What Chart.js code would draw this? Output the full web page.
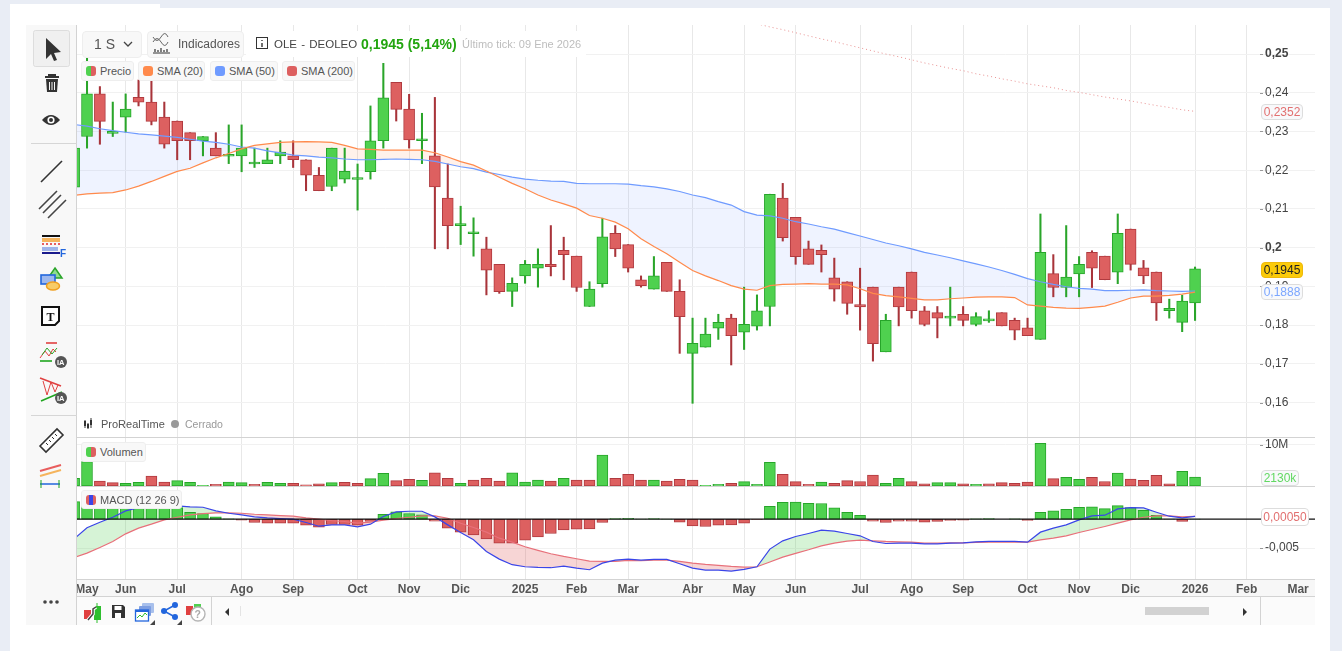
<!DOCTYPE html>
<html lang="es">
<head>
<meta charset="utf-8">
<title>OLE - DEOLEO</title>
<script src="https://cdn.jsdelivr.net/npm/chart.js@4/dist/chart.umd.min.js"></script>
<style>
    * { box-sizing: border-box; }
    body { margin: 0; width: 1342px; height: 651px; overflow: hidden; background: #e9edf5; position: relative;
        font-family: "Liberation Sans", Arial, sans-serif; color: #444; }
    .abs { position: absolute; }
    canvas { position: absolute; left: 76px; }
    .chip { position: absolute; display: flex; align-items: center; background: #f8f8f8; border: 1px solid #eeeeee;
        border-radius: 3px; font-size: 11px; color: #555; padding-left: 4px; white-space: nowrap; }
    .chip i { display: block; width: 10px; height: 10px; border-radius: 3px; margin-right: 4px; flex: none; }
    .precio { background: linear-gradient(90deg, #4fd14f 50%, #dd6060 50%); }
    .etiqueta { position: absolute; left: 1261px; height: 16px; line-height: 14px; font-size: 12px; text-align: center;
        background: #f8f9fb; border: 1px solid #dddddd; border-radius: 4px; }
    .linea { position: absolute; background: #d3d3d3; }
    .boton { position: absolute; background: #f8f8f8; border: 1px solid #eeeeee; border-radius: 4px; color: #555; font-size: 13px; line-height: 25px; }
    svg { position: absolute; left: 0; top: 0; }
</style>
</head>
<body>
    <!-- Fondo de la tarjeta blanca y zonas de la plataforma -->
    <div class="abs" style="left:10px;top:4px;width:150px;height:10px;background:#fff"></div>
    <div class="abs" style="left:10px;top:8px;width:1320px;height:643px;background:#fff"></div>
    <div class="abs" style="left:26px;top:25px;width:50px;height:600px;background:#f8f8f8"></div>
    <div class="abs" style="left:76px;top:580px;width:1239px;height:16px;background:#f7f7f7"></div>
    <div class="abs" style="left:76px;top:597px;width:1239px;height:28px;background:#fbfbfb"></div>

    <canvas id="graficoPrecio" width="1239" height="412" style="top:25px"></canvas>
    <canvas id="graficoVolumen" width="1239" height="48" style="top:438px"></canvas>
    <canvas id="graficoMacd" width="1239" height="109" style="top:487px"></canvas>

    <div class="linea" style="left:76px;top:25px;width:1px;height:600px"></div>
    <div class="linea" style="left:76px;top:437px;width:1239px;height:1px"></div>
    <div class="linea" style="left:76px;top:486px;width:1239px;height:1px"></div>
    <div class="linea" style="left:76px;top:579px;width:1239px;height:1px"></div>
    <div class="linea" style="left:76px;top:596px;width:1239px;height:1px"></div>
    <div class="linea" style="left:211px;top:597px;width:1px;height:28px"></div>
    <div class="linea" style="left:1260px;top:597px;width:1px;height:28px"></div>
    <div class="linea" style="left:240px;top:606px;width:1px;height:10px;background:#e4e4e4"></div>
    <div class="abs" style="left:1145px;top:607px;width:64px;height:8px;background:#d2d2d2"></div>

    <!-- Barra superior -->
    <div class="abs" style="left:246px;top:31px;width:340px;height:26px;background:#fff"></div>
    <div class="boton" style="left:82px;top:31px;width:60px;height:27px;font-size:14px;padding-left:11px">1 S</div>
    <div class="boton" style="left:147px;top:31px;width:97px;height:27px;padding-left:30px;font-size:12px">Indicadores</div>
    <div class="abs" style="left:274px;top:38px;font-size:11.5px;color:#444;word-spacing:1px">OLE - DEOLEO</div>
    <div class="abs" style="left:361px;top:36px;font-size:14px;font-weight:bold;color:#22a50f">0,1945 (5,14%)</div>
    <div class="abs" style="left:462px;top:38px;font-size:11px;color:#bdbdbd">Último tick: 09 Ene 2026</div>

    <!-- Leyendas de los paneles -->
    <div class="chip" style="left:81px;top:61px;width:53px;height:20px"><i class="precio"></i>Precio</div>
    <div class="chip" style="left:138px;top:61px;width:67px;height:20px"><i style="background:#ff8a4c"></i>SMA (20)</div>
    <div class="chip" style="left:210px;top:61px;width:68px;height:20px"><i style="background:#6f9bff"></i>SMA (50)</div>
    <div class="chip" style="left:282px;top:61px;width:73px;height:20px"><i style="background:#dd6060"></i>SMA (200)</div>
    <div class="chip" style="left:81px;top:442px;width:65px;height:20px"><i class="precio"></i>Volumen</div>
    <div class="chip" style="left:81px;top:490px;width:101px;height:19px"><i style="background:linear-gradient(90deg,#dd6060 33%,#3a45e8 33%,#3a45e8 66%,#dd6060 66%)"></i>MACD (12 26 9)</div>
    <div class="abs" style="left:101px;top:418px;font-size:11px;color:#555">ProRealTime</div>
    <div class="abs" style="left:185px;top:418px;font-size:10.5px;color:#999">Cerrado</div>

    <!-- Últimos valores en la escala derecha -->
    <div class="etiqueta" style="top:104px;width:42px;color:#e27070">0,2352</div>
    <div class="etiqueta" style="top:262px;width:42px;background:#fbcb0a;border-color:#eeb90a;color:#222">0,1945</div>
    <div class="etiqueta" style="top:284px;width:42px;color:#7ba6ff">0,1888</div>
    <div class="etiqueta" style="top:470px;width:38px;color:#62d862">2130k</div>
    <div class="etiqueta" style="top:508px;width:48px;height:18px;line-height:16px;color:#e27070;background:#fff">0,00050</div>

    <!-- Iconos de las barras de herramientas -->
    <svg width="1342" height="651" fill="none">
        <rect x="33.5" y="30.5" width="36" height="36" rx="2" fill="#f0f0f0" stroke="#dddddd"/>
        <path d="M46 38l0 21 5-5 3 7 3-1-3-7 7-1z" fill="#333"/>
        <path d="M45 77h14M49 77v-2h6v2" stroke="#333" stroke-width="2"/><path d="M46 79h12l-1 13h-10z" fill="#333"/>
        <path d="M49.5 82v8M52 82v8M54.5 82v8" stroke="#f8f8f8"/>
        <path d="M42 120q9-10 18 0q-9 10-18 0z" fill="#333"/>
        <circle cx="51" cy="120" r="3.6" fill="#fff"/><circle cx="51" cy="120" r="2" fill="#333"/>
        <path d="M31 143.5h46M31 415.5h46" stroke="#d6d6d6"/>
        <path d="M41 182l21-21" stroke="#333" stroke-width="1.6"/>
        <path d="M39 209l18-18M43 213l18-18M48 218l18-18" stroke="#444" stroke-width="1.6"/>
        <path d="M42 236h18" stroke="#111" stroke-width="2"/><path d="M42 240h18" stroke="#f5b45d" stroke-width="4"/>
        <path d="M42 244h18" stroke="#e85d5d" stroke-width="2" stroke-dasharray="2 2"/>
        <path d="M42 249h16" stroke="#9fb4e8" stroke-width="4"/><path d="M42 253h18" stroke="#1a1a8c" stroke-width="2"/>
        <text x="60" y="257" font-size="10" font-weight="bold" fill="#2266dd" font-family="Liberation Sans">F</text>
        <path d="M55 268l7 10h-14z" fill="#8fdc8f" stroke="#2aa52a" stroke-width="1.5"/>
        <rect x="41" y="275" width="14" height="9" fill="#9db8ee" stroke="#2266dd" stroke-width="1.6"/>
        <ellipse cx="53" cy="286" rx="6.5" ry="4" fill="#f8cc66" stroke="#f0a020" stroke-width="1.5"/>
        <path d="M42 307h17v14l-4 4h-13z" fill="#fff" stroke="#111" stroke-width="2"/>
        <text x="46.5" y="321" font-size="12" font-weight="bold" fill="#111" font-family="Liberation Serif">T</text>
        <path d="M46 343h11" stroke="#e04040" stroke-width="1.6"/><path d="M40 358l5-7 4 5 4-7 3 3" stroke="#e04040"/><path d="M42 355l5-7 5 6 5-6" stroke="#2aa52a"/><path d="M40 361h12" stroke="#1fa51f" stroke-width="1.6"/>
        <circle cx="61" cy="362" r="6" fill="#555"/><text x="57" y="365" font-size="7.5" font-weight="bold" fill="#fff" font-family="Liberation Sans">IA</text>
        <path d="M40 378l21 8" stroke="#e04040" stroke-width="1.6"/><path d="M41 401l21-9" stroke="#1fa51f" stroke-width="1.6"/><path d="M43 381l4 14 4-13 4 10 3-7" stroke="#e04040"/>
        <circle cx="61" cy="398" r="6" fill="#555"/><text x="57" y="401" font-size="7.5" font-weight="bold" fill="#fff" font-family="Liberation Sans">IA</text>
        <path d="M40 446l17-17 6 6-17 17z" fill="#fff" stroke="#333" stroke-width="1.6"/><path d="M46 443l2 2M49 440l2 2M52 437l2 2M55 434l2 2" stroke="#333"/>
        <path d="M40 471l21-6" stroke="#e85d5d" stroke-width="2"/><path d="M40 476l21-6" stroke="#f5b45d" stroke-width="2"/><path d="M40 484h20" stroke="#2266dd" stroke-width="1.5"/><path d="M41 480v8M59 480v8" stroke="#1fa51f"/>
        <g fill="#444"><circle cx="45" cy="602" r="1.8"/><circle cx="51" cy="602" r="1.8"/><circle cx="57" cy="602" r="1.8"/></g>
        <path d="M124 42l4 4 4-4" stroke="#444" stroke-width="1.3"/>
        <path d="M153 42q4-7 8 0t7 0M153 37q4 7 8 0t7 0" stroke="#666"/><path d="M153 53h17M155 52v-3M158 52v-2M161 52v-4M164 52v-2M167 52v-3" stroke="#333" stroke-width="1.2"/>
        <rect x="256.5" y="37.5" width="11" height="11" stroke="#333"/><path d="M262 40v1M262 43v4" stroke="#333" stroke-width="1.4"/>
        <path d="M85 420v8M91 418v10M88 423v6" stroke="#333"/><path d="M84 421h2v5h-2zM90 420h2v5h-2zM87 424h2v4h-2z" fill="#333"/>
        <circle cx="175" cy="424" r="4" fill="#999"/>
        <rect x="84" y="610" width="7" height="9" fill="#e04040"/><rect x="94" y="606" width="7" height="14" fill="#2fbf2f"/><path d="M97 603v20" stroke="#2fbf2f"/>
        <path d="M88 620l5-6v-5l3-2" stroke="#fff" stroke-width="3.5"/><path d="M88 620l5-6v-5l3-2" stroke="#444" stroke-width="1.5"/>
        <path d="M112 605h11l2 2v11h-13z" fill="#333"/><rect x="114.5" y="606" width="7" height="4" fill="#fff"/><rect x="115" y="613" width="6" height="5" fill="#fff"/>
        <rect x="142" y="603" width="12" height="10" fill="#a8c0ec" rx="1"/><rect x="139" y="606" width="12" height="10" fill="#7e9fe2" rx="1"/><rect x="135.5" y="610" width="13" height="11" fill="#fff" stroke="#2266dd" stroke-width="1.3"/><path d="M137 618l3-3 2 2 3-4 2 2" stroke="#2fbf2f"/><path d="M135 611h14" stroke="#2266dd" stroke-width="2"/>
        <path d="M150 625l5-5v5z" fill="#444"/>
        <circle cx="164" cy="611" r="3" fill="#2266dd"/><circle cx="175" cy="605" r="3" fill="#2266dd"/><circle cx="175" cy="617" r="3" fill="#2266dd"/><path d="M175 605l-11 6 11 6" stroke="#2266dd" stroke-width="1.5"/><path d="M177 625l5-5v5z" fill="#444"/>
        <rect x="186" y="606" width="7" height="9" fill="#e04040"/><rect x="194" y="604" width="7" height="7" fill="#4fd14f"/>
        <circle cx="198" cy="614" r="7" fill="#fff" stroke="#b5b5b5" stroke-width="1.4"/><text x="194.5" y="618" font-size="10.5" font-weight="bold" fill="#aaa" font-family="Liberation Sans">?</text>
        <path d="M229 608v8l-4-4z" fill="#333"/><path d="M1243 608v8l4-4z" fill="#333"/>
    </svg>

<script>
    // Constantes del eje horizontal: una unidad equivale a una semana.
    const SEMANA_MIN = -0.854;
    const SEMANA_MAX = 95.31;

    // Velas semanales (la primera queda cortada por el borde izquierdo).
    const apertura = [0.2156,
        0.2287,0.2397,0.2295,0.2337,0.2388,0.2376,0.2337,0.2327,0.2297,0.2276,
        0.2257,0.2236,0.2237,0.2216,0.2217,0.2237,0.2237,0.2227,0.2187,0.2158,
        0.2177,0.2176,0.2196,0.2276,0.2427,0.2358,0.2276,0.2237,0.2128,0.2057,
        0.2036,0.1997,0.1957,0.1887,0.1927,0.1947,0.1957,0.1993,0.1978,0.1848,
        0.1907,0.2037,0.2008,0.1917,0.1893,0.1962,0.1887,0.1727,0.1743,0.1792,
        0.1818,0.1782,0.1797,0.1848,0.2128,0.2078,0.1997,0.1993,0.1922,0.1912,
        0.1853,0.1898,0.1731,0.1898,0.1937,0.1837,0.1832,0.1818,0.1828,0.1802,
        0.1811,0.1832,0.1812,0.1793,0.1763,0.1933,0.1897,0.1932,0.1988,0.1978,
        0.1937,0.2048,0.1948,0.1937,0.1837,0.1807,0.1857];
    const cierre = [0.2257,
        0.2397,0.2326,0.2300,0.2358,0.2376,0.2326,0.2267,0.2276,0.2276,0.2287,
        0.2237,0.2238,0.2257,0.2219,0.2227,0.2247,0.2227,0.2187,0.2147,0.2257,
        0.2197,0.2178,0.2276,0.2387,0.2357,0.2278,0.2278,0.2157,0.2057,0.2058,
        0.2037,0.1942,0.1886,0.1908,0.1957,0.1957,0.1951,0.1982,0.1897,0.1893,
        0.2028,0.1997,0.1947,0.1902,0.1927,0.1887,0.1822,0.1753,0.1777,0.1807,
        0.1773,0.1802,0.1837,0.2138,0.2026,0.1977,0.1957,0.1982,0.1893,0.1856,
        0.1847,0.1752,0.1812,0.1847,0.1837,0.1802,0.1818,0.1823,0.1812,0.1822,
        0.1812,0.1798,0.1787,0.1773,0.1988,0.1897,0.1924,0.1957,0.1947,0.1917,
        0.2037,0.1957,0.1927,0.1857,0.1843,0.1862,0.1945];
    const maximo = [0.2257,
        0.2490,0.2416,0.2376,0.2397,0.2433,0.2430,0.2376,0.2327,0.2297,0.2287,
        0.2297,0.2317,0.2317,0.2257,0.2257,0.2276,0.2276,0.2227,0.2207,0.2257,
        0.2257,0.2216,0.2366,0.2476,0.2427,0.2396,0.2347,0.2388,0.2216,0.2107,
        0.2077,0.2027,0.1957,0.1922,0.1967,0.1997,0.2057,0.2027,0.1978,0.1912,
        0.2076,0.2057,0.2008,0.1927,0.1977,0.1962,0.1917,0.1818,0.1818,0.1828,
        0.1828,0.1898,0.1878,0.2138,0.2166,0.2078,0.2017,0.2007,0.1973,0.1912,
        0.1947,0.1898,0.1828,0.1898,0.1937,0.1848,0.1848,0.1898,0.1848,0.1832,
        0.1837,0.1832,0.1818,0.1818,0.2087,0.1982,0.2057,0.1977,0.1992,0.1978,
        0.2087,0.2048,0.1967,0.1937,0.1867,0.1877,0.1950];
    const minimo = [0.2156,
        0.2257,0.2267,0.2287,0.2298,0.2366,0.2317,0.2257,0.2227,0.2227,0.2237,
        0.2237,0.2217,0.2196,0.2207,0.2217,0.2217,0.2207,0.2147,0.2147,0.2147,
        0.2167,0.2097,0.2177,0.2257,0.2327,0.2257,0.2217,0.1997,0.1997,0.2008,
        0.1978,0.1878,0.1882,0.1848,0.1908,0.1898,0.1927,0.1917,0.1887,0.1848,
        0.1898,0.1977,0.1937,0.1898,0.1893,0.1887,0.1727,0.1598,0.1743,0.1763,
        0.1697,0.1737,0.1787,0.1798,0.2017,0.1957,0.1957,0.1937,0.1862,0.1828,
        0.1787,0.1707,0.1731,0.1798,0.1818,0.1798,0.1767,0.1798,0.1798,0.1798,
        0.1807,0.1798,0.1762,0.1773,0.1763,0.1873,0.1873,0.1873,0.1897,0.1917,
        0.1907,0.1942,0.1907,0.1812,0.1818,0.1783,0.1812];

    // Medias móviles del panel de precio.
    const sma20 = [0.2135,
        0.2139,0.2141,0.2142,0.2149,0.2159,0.2171,0.2184,0.2197,0.2205,0.2219,
        0.2232,0.2243,0.2255,0.2264,0.2268,0.2272,0.2273,0.2274,0.2273,0.2272,
        0.2264,0.2255,0.2254,0.2252,0.2252,0.2252,0.2252,0.2245,0.2234,0.2222,
        0.2213,0.2198,0.2182,0.2166,0.2152,0.2136,0.2123,0.2113,0.2102,0.2083,
        0.2076,0.2066,0.2049,0.2023,0.2003,0.1984,0.1962,0.1941,0.1927,0.1915,
        0.1902,0.1893,0.1890,0.1902,0.1905,0.1906,0.1907,0.1906,0.1906,0.1904,
        0.1894,0.1882,0.1876,0.1873,0.1869,0.1865,0.1865,0.1868,0.1870,0.1872,
        0.1873,0.1873,0.1871,0.1852,0.1849,0.1846,0.1844,0.1843,0.1846,0.1849,
        0.1859,0.1870,0.1875,0.1875,0.1877,0.1880,0.1885];
    const sma50 = [0.2318,
        0.2314,0.2307,0.2302,0.2298,0.2294,0.2291,0.2288,0.2285,0.2280,0.2275,
        0.2272,0.2267,0.2260,0.2257,0.2250,0.2245,0.2239,0.2237,0.2234,0.2232,
        0.2229,0.2227,0.2227,0.2228,0.2229,0.2228,0.2227,0.2223,0.2216,0.2209,
        0.2204,0.2195,0.2189,0.2182,0.2177,0.2174,0.2172,0.2171,0.2166,0.2165,
        0.2165,0.2165,0.2164,0.2160,0.2157,0.2152,0.2145,0.2136,0.2129,0.2119,
        0.2110,0.2093,0.2084,0.2082,0.2076,0.2067,0.2061,0.2054,0.2048,0.2039,
        0.2030,0.2021,0.2012,0.2005,0.1997,0.1988,0.1981,0.1974,0.1966,0.1958,
        0.1950,0.1941,0.1931,0.1920,0.1912,0.1905,0.1899,0.1895,0.1893,0.1889,
        0.1889,0.1890,0.1891,0.1889,0.1888,0.1887,0.1888];
    // La SMA 200 solo entra en pantalla desde la semana 52.
    const SMA200_INICIO = 52;
    const sma200 = [0.2578,0.2570,0.2563,0.2555,0.2547,0.2539,0.2532,0.2524,0.2516,
        0.2508,0.2500,0.2493,0.2485,0.2477,0.2470,0.2463,0.2457,0.2449,0.2443,
        0.2436,0.2430,0.2423,0.2418,0.2413,0.2406,0.2401,0.2395,0.2389,0.2384,
        0.2379,0.2373,0.2367,0.2362,0.2356,0.2352];

    // Volumen semanal en millones de títulos.
    const volumen = [1.85,
        5.9,1.2,0.8,0.65,0.9,2.4,0.95,1.3,0.9,0.15,
        0.4,0.95,0.8,0.4,0.9,0.65,0.65,0.3,0.55,0.8,
        0.9,0.65,1.8,3.05,1.3,1.6,1.4,3.2,1.85,0.65,
        1.45,1.85,1.2,3.2,0.95,1.45,1.2,1.85,1.45,1.45,
        7.5,1.85,2.8,1.45,1.45,1.2,1.6,1.45,0.15,0.4,
        0.65,1.05,0.4,5.7,2.8,1.05,0.4,0.95,0.65,1.3,
        1.1,2.65,0.65,1.85,1.05,0.55,0.8,0.8,0.55,0.4,
        0.5,0.8,0.65,0.95,10.3,1.8,2.1,1.6,2.1,1.1,
        3.15,1.7,1.35,2.6,0.55,3.55,2.13];

    // Líneas e histograma del MACD (12 26 9).
    const macd = [-0.00339,
        -0.00149,-0.00052,0.00034,0.00144,0.00201,0.00236,0.00247,0.0023,0.00213,0.00207,
        0.00144,0.00103,0.00075,0.0004,0.00023,0.00011,0,-0.00057,-0.00121,-0.00098,
        -0.00098,-0.00132,-0.00086,0.00046,0.00126,0.00138,0.00138,0.0004,-0.00098,-0.0023,
        -0.00356,-0.00557,-0.0069,-0.00787,-0.00822,-0.00833,-0.00839,-0.0081,-0.00845,-0.00874,
        -0.00759,-0.00707,-0.0069,-0.00707,-0.00695,-0.00695,-0.0077,-0.00845,-0.00879,-0.00879,
        -0.00897,-0.00868,-0.00822,-0.00517,-0.00374,-0.00299,-0.00247,-0.0019,-0.00207,-0.00247,
        -0.00287,-0.00385,-0.0042,-0.00414,-0.00414,-0.00425,-0.00425,-0.00414,-0.00408,-0.00391,
        -0.00385,-0.00385,-0.00385,-0.00397,-0.00224,-0.00155,-0.00098,-0.00011,0.00057,0.00069,
        0.00178,0.00201,0.00195,0.00121,0.00052,0.00023,0.0005];
    const senal = [-0.00661,
        -0.00586,-0.00488,-0.00385,-0.00253,-0.00155,-0.00086,-0.00011,0.00034,0.00075,0.00098,
        0.00109,0.00109,0.00103,0.00086,0.00075,0.00063,0.00052,0.00023,0,-0.00023,
        -0.0004,-0.00069,-0.00052,-0.00017,0.00011,0.00034,0.00057,0.00057,0.00017,-0.00069,
        -0.00144,-0.00224,-0.00328,-0.00397,-0.00477,-0.0054,-0.00598,-0.00644,-0.00684,-0.00724,
        -0.0073,-0.0073,-0.00713,-0.00718,-0.00707,-0.00707,-0.0073,-0.00759,-0.00782,-0.00799,
        -0.00816,-0.00828,-0.00822,-0.00741,-0.00655,-0.00592,-0.00529,-0.0046,-0.00414,-0.00379,
        -0.00362,-0.00374,-0.00385,-0.00391,-0.00397,-0.00414,-0.00414,-0.00408,-0.00408,-0.00402,
        -0.00397,-0.00397,-0.00397,-0.00397,-0.00356,-0.00328,-0.00287,-0.0023,-0.00178,-0.00126,
        -0.00069,-0.00011,0.00034,0.00057,0.00057,0.0004,0.0005];
    const histograma = [0.00305,
        0.0029,0.0029,0.0028,0.0028,0.0027,0.0026,0.0024,0.0020,0.00121,0.00098,
        0.0004,0.00005,-0.00017,-0.00057,-0.00069,-0.00069,-0.00069,-0.00103,-0.00138,-0.00091,
        -0.00091,-0.00103,-0.0004,0.00086,0.00126,0.00098,0.00074,-0.00034,-0.00155,-0.00224,
        -0.00271,-0.0034,-0.00414,-0.00414,-0.00362,-0.00305,-0.00247,-0.00184,-0.00172,-0.00167,
        -0.00057,0.00012,0.00017,0.00003,0.00012,0.00002,-0.00052,-0.00116,-0.00126,-0.00103,
        -0.00098,-0.00069,-0.00005,0.00224,0.00293,0.00298,0.00276,0.00271,0.00195,0.00121,
        0.00069,-0.00034,-0.00057,-0.00034,-0.00034,-0.00052,-0.0004,-0.00022,-0.00017,0.00005,
        0.00012,0,0.00005,-0.00022,0.00121,0.00143,0.00172,0.00207,0.00212,0.00184,
        0.00236,0.00202,0.00155,0.00069,0.00001,-0.0004,0.00003];

    // Marcas de los ejes.
    const marcasMes = [0,3,7,12,16,21,25,29,34,38,42,47,51,55,60,64,68,73,77,81,86,90,94];
    const etiquetasMes = ['May','Jun','Jul','Ago','Sep','Oct','Nov','Dic','2025','Feb','Mar','Abr','May','Jun','Jul','Ago','Sep','Oct','Nov','Dic','2026','Feb','Mar'];
    const marcasPrecio = [0.16,0.17,0.18,0.19,0.2,0.21,0.22,0.23,0.24,0.25];
    const marcasVolumen = [10];
    const marcasMacd = [-0.005];

    // Colores de las velas.
    const VERDE = '#4fd14f', VERDE_BORDE = '#27a52a';
    const ROJO = '#dd6060', ROJO_BORDE = '#b03a3f';

    // La posición horizontal de cada dato es su semana; el primer dato es la semana -1.
    const puntos = (serie, inicio = -1) => serie.map((y, i) => ({ x: i + inicio, y }));

    // Plugin con la rayita corta que precede a cada etiqueta del eje vertical.
    const rayitasEje = {
        id: 'rayitasEje',
        afterDraw: (chart) => {
            const { ctx, scales: { y } } = chart;
            ctx.save();
            ctx.fillStyle = '#999';
            y.ticks.forEach(({ value }) => {
                ctx.fillRect(1184, Math.round(y.getPixelForValue(value)), 3, 1);
            });
            ctx.restore();
        }
    };

    /*
    *   Función para armar la escala horizontal común a los tres paneles.
    *   Parámetros: conEtiquetas (true solo en el panel inferior).
    *   Retorno: objeto de configuración de la escala.
    */
    const escalaX = (conEtiquetas) => ({
        type: 'linear',
        min: SEMANA_MIN,
        max: SEMANA_MAX,
        offset: false,
        border: { display: false },
        afterBuildTicks: (eje) => { eje.ticks = marcasMes.map(value => ({ value })); },
        afterFit: (eje) => {
            eje.paddingLeft = 0;
            eje.paddingRight = 0;
            eje.height = conEtiquetas ? 17 : 0;
        },
        grid: {
            offset: false,
            drawTicks: false,
            // Ni el primer mayo ni el último marzo llevan línea vertical.
            color: (ctx) => (ctx.tick && (ctx.tick.value === 0 || ctx.tick.value === 94)) ? 'rgba(0,0,0,0)' : '#e8e8e8'
        },
        ticks: {
            display: conEtiquetas,
            autoSkip: false,
            maxRotation: 0,
            padding: 3,
            color: '#555',
            font: { family: 'Liberation Sans', size: 12, weight: 'bold' },
            callback: (valor, i) => etiquetasMes[i]
        }
    });

    /*
    *   Función para armar una escala vertical con las etiquetas dentro del área, a la derecha.
    *   Parámetros: límites, marcas, función de formato y fuente de cada marca.
    *   Retorno: objeto de configuración de la escala.
    */
    const escalaY = (min, max, marcas, formato, fuente) => ({
        position: 'left',
        min,
        max,
        border: { display: false },
        afterBuildTicks: (eje) => { eje.ticks = marcas.map(value => ({ value })); },
        // El relleno enorme de las etiquetas no debe reservar espacio en el gráfico.
        afterFit: (eje) => {
            eje.width = 0;
            eje.paddingTop = 0;
            eje.paddingBottom = 0;
        },
        grid: { drawTicks: false, color: '#f1f1f1' },
        ticks: { mirror: true, padding: 1189, color: '#444', font: fuente, callback: formato }
    });

    const fuenteEje = { family: 'Liberation Sans', size: 12 };
    const conComa = (valor) => String(valor).replace('.', ',');

    const opcionesBase = (x, y) => ({
        responsive: false,
        animation: false,
        devicePixelRatio: 1,
        layout: { padding: 0 },
        scales: { x, y },
        plugins: {
            legend: { display: false },
            tooltip: { enabled: false },
            filler: { drawTime: 'beforeDatasetsDraw' }
        }
    });

    // Gráfico de velas con las medias móviles.
    const graficoPrecio = () => {
        const sube = cierre.map((c, i) => c >= apertura[i]);
        new Chart(document.getElementById('graficoPrecio'), {
            type: 'bar',
            plugins: [rayitasEje],
            data: {
                datasets: [
                    {
                        type: 'line',
                        data: puntos(sma20),
                        borderColor: '#ff8a4c',
                        borderWidth: 1.2,
                        pointRadius: 0,
                        order: 1,
                        fill: { target: 1, above: 'rgba(255,130,60,0.11)', below: 'rgba(106,150,255,0.11)' }
                    },
                    {
                        type: 'line',
                        data: puntos(sma50),
                        borderColor: '#6f9bff',
                        borderWidth: 1.2,
                        pointRadius: 0,
                        order: 1
                    },
                    {
                        type: 'line',
                        data: puntos(sma200, SMA200_INICIO),
                        borderColor: 'rgba(226,110,110,0.75)',
                        borderWidth: 1,
                        borderDash: [1, 3],
                        pointRadius: 0,
                        order: 1
                    },
                    {
                        data: cierre.map((c, i) => ({ x: i - 1, y: [apertura[i], c] })),
                        backgroundColor: sube.map(s => s ? VERDE : ROJO),
                        borderColor: sube.map(s => s ? VERDE_BORDE : ROJO_BORDE),
                        borderWidth: 1,
                        borderSkipped: false,
                        barThickness: 11,
                        minBarLength: 2,
                        grouped: false,
                        order: 2
                    },
                    {
                        data: maximo.map((m, i) => ({ x: i - 1, y: [minimo[i], m] })),
                        backgroundColor: sube.map(s => s ? '#2aa52a' : '#a8343a'),
                        barThickness: 1.4,
                        grouped: false,
                        order: 3
                    }
                ]
            },
            options: opcionesBase(
                escalaX(false),
                escalaY(0.1511, 0.2575, marcasPrecio, conComa, (ctx) => ({
                    ...fuenteEje,
                    weight: (ctx.tick && (ctx.tick.value === 0.2 || ctx.tick.value === 0.25)) ? 'bold' : 'normal'
                }))
            )
        });
    };

    // Gráfico de barras de volumen: el color compara el cierre con el de la semana anterior.
    const graficoVolumen = () => {
        const sube = cierre.map((c, i) => i === 0 || c >= cierre[i - 1]);
        new Chart(document.getElementById('graficoVolumen'), {
            type: 'bar',
            plugins: [rayitasEje],
            data: {
                datasets: [{
                    data: puntos(volumen),
                    backgroundColor: sube.map(s => s ? VERDE : ROJO),
                    borderColor: sube.map(s => s ? VERDE_BORDE : ROJO_BORDE),
                    borderWidth: 1,
                    borderSkipped: false,
                    barThickness: 11
                }]
            },
            options: opcionesBase(
                escalaX(false),
                escalaY(0, 11.62, marcasVolumen, (v) => v + 'M', fuenteEje)
            )
        });
    };

    // Gráfico del MACD con histograma, líneas y línea de cero.
    const graficoMacd = () => {
        new Chart(document.getElementById('graficoMacd'), {
            type: 'bar',
            plugins: [rayitasEje],
            data: {
                datasets: [
                    {
                        type: 'line',
                        data: puntos(macd),
                        borderColor: '#3a45e8',
                        borderWidth: 1.2,
                        pointRadius: 0,
                        order: 1,
                        fill: { target: 1, above: 'rgba(70,200,70,0.22)', below: 'rgba(220,80,80,0.24)' }
                    },
                    {
                        type: 'line',
                        data: puntos(senal),
                        borderColor: '#e8707a',
                        borderWidth: 1.2,
                        pointRadius: 0,
                        order: 1
                    },
                    {
                        type: 'line',
                        data: [{ x: SEMANA_MIN, y: 0 }, { x: SEMANA_MAX, y: 0 }],
                        borderColor: '#111',
                        borderWidth: 1.2,
                        pointRadius: 0,
                        order: 0
                    },
                    {
                        data: puntos(histograma),
                        backgroundColor: histograma.map(v => v >= 0 ? VERDE : ROJO),
                        borderColor: histograma.map(v => v >= 0 ? VERDE_BORDE : ROJO_BORDE),
                        borderWidth: 1,
                        borderSkipped: false,
                        barThickness: 11,
                        grouped: false,
                        order: 2
                    }
                ]
            },
            options: opcionesBase(
                escalaX(true),
                escalaY(-0.01034, 0.00557, marcasMacd, conComa, fuenteEje)
            )
        });
    };

    // Método del evento para cuando el documento ha cargado.
    document.addEventListener('DOMContentLoaded', () => {
        graficoPrecio();
        graficoVolumen();
        graficoMacd();
    });
</script>
</body>
</html>
